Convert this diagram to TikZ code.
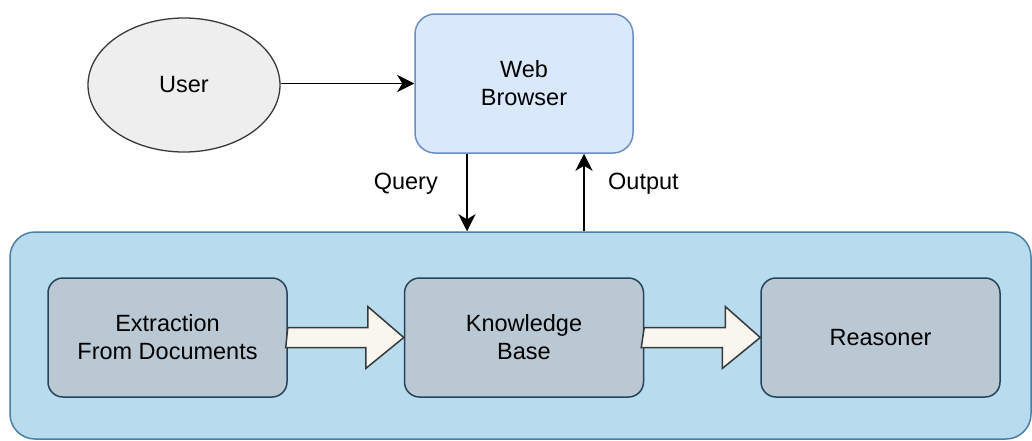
\documentclass[tikz,border=0pt]{standalone}
\usepackage{fontspec}
\setmainfont{Liberation Sans}
\usetikzlibrary{calc,shapes.geometric,arrows.meta}
\definecolor{contfill}{HTML}{B8DCEE}
\definecolor{contdraw}{HTML}{4A7FA8}
\definecolor{boxfill}{HTML}{BAC8D3}
\definecolor{boxdraw}{HTML}{23445D}
\definecolor{webfill}{HTML}{DAE8FC}
\definecolor{webdraw}{HTML}{6C8EBF}
\definecolor{userfill}{HTML}{EEEEEE}
\definecolor{userdraw}{HTML}{36393D}
\definecolor{bafill}{HTML}{F9F7ED}
\tikzset{
  txt/.style={font=\fontsize{23.5}{28}\selectfont, align=center, text=black},
  inbox/.style={txt, draw=boxdraw, fill=boxfill, line width=1.5pt, rounded corners=15pt,
    minimum width=239pt, minimum height=119pt, inner sep=0pt},
  webbox/.style={txt, draw=webdraw, fill=webfill, line width=1.5pt, rounded corners=20pt,
    minimum width=218pt, minimum height=139pt, inner sep=0pt},
  userell/.style={txt, ellipse, draw=userdraw, fill=userfill, line width=1.3pt,
    minimum width=192pt, minimum height=134pt, inner sep=0pt},
  contbox/.style={draw=contdraw, fill=contfill, line width=1.5pt, rounded corners=25pt,
    minimum width=1021pt, minimum height=207pt, inner sep=0pt},
  conn/.style={draw=black, line width=1.8pt, -{Stealth[length=17pt,width=17pt,inset=5pt]}},
  bigarrow/.style={draw=userdraw, fill=bafill, line width=1.5pt, line join=miter},
  lbl/.style={font=\fontsize{23.5}{28}\selectfont, text=black, inner sep=0pt}
}
\begin{document}
\begin{tikzpicture}[x=1pt,y=-1pt]
\useasboundingbox (0,0) rectangle (1032,440);
\node[contbox] (cont) at (520.5,335.5) {};
\node[userell] (user) at (184,85) {User};
\node[webbox] (web) at (524,83.5) {Web\\Browser};
\node[inbox] (ext) at (167.5,337.5) {Extraction\\From Documents};
\node[inbox] (kb) at (524,337.5) {Knowledge\\Base};
\node[inbox] (rea) at (880.5,337.5) {Reasoner};
\coordinate (qtop) at (467,153);
\coordinate (qbot) at (467,232);
\coordinate (otop) at (584,153);
\coordinate (obot) at (584,232);
\draw[conn] (user.east |- web.west) -- (web.west);
\draw[conn] (web.south -| qtop) -- (cont.north -| qbot);
\draw[conn] (cont.north -| obot) -- (web.south -| otop);
\node[lbl, anchor=east] (qlbl) at (438,184) {Query};
\node[lbl, anchor=west] (olbl) at (608,184) {Output};
% block arrows
\path[bigarrow] (ext.east) ++(0,-10) -- ++(80,0) -- ++(0,-21) -- (kb.west) -- ++(-38,31) -- ++(0,-21) -- ++(-80,0) -- cycle;
\path[bigarrow] (kb.east) ++(0,-10) -- ++(81,0) -- ++(0,-21) -- (rea.west) -- ++(-38,31) -- ++(0,-21) -- ++(-81,0) -- cycle;
\end{tikzpicture}
\end{document}
